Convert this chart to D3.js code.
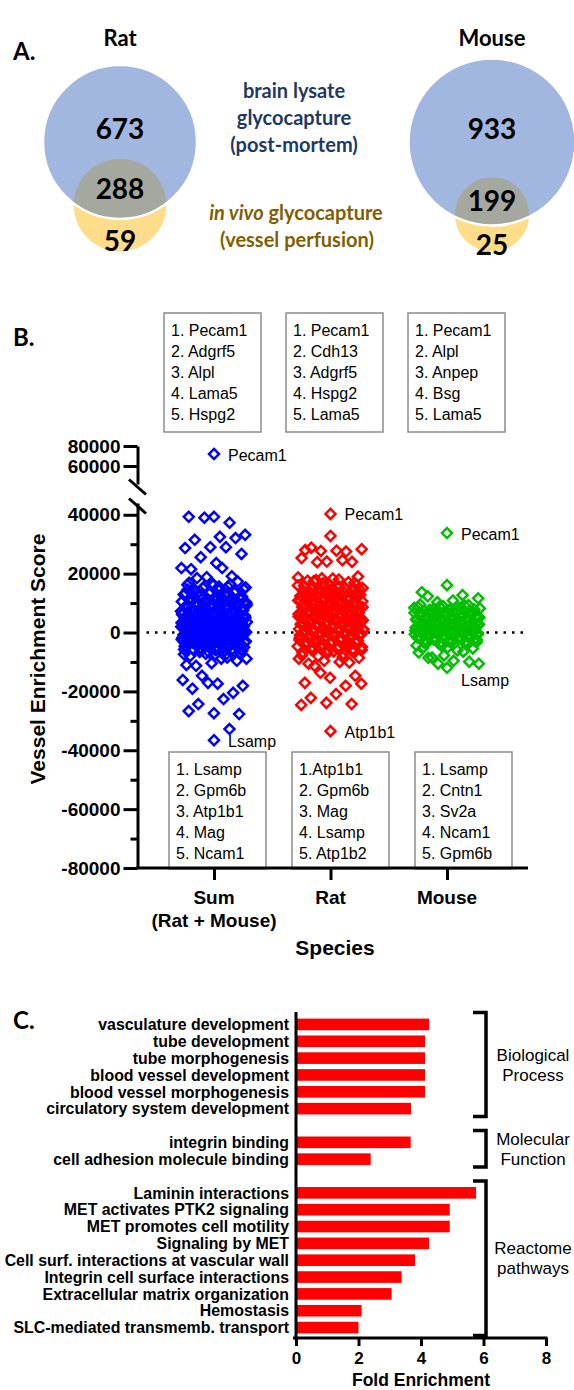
<!DOCTYPE html>
<html>
<head>
<meta charset="utf-8">
<script src="https://d3js.org/d3.v7.min.js"></script>
<style>
  body { margin: 0; background: #fff; }
  svg { display: block; font-family: 'Liberation Sans', Arial, sans-serif; }
  .calibri { font-family: Lato, 'Open Sans', sans-serif; font-weight: bold; }
  .axis path, .axis line { stroke: #000; stroke-width: 3; }
  .axis text { font-weight: bold; fill: #000; font-family: 'Liberation Sans', Arial, sans-serif; }
  .gene-box rect { fill: #fff; stroke: #8c8c8c; stroke-width: 1.5; }
  .gene-box text { font-size: 16px; fill: #000; }
</style>
</head>
<body>
<svg id="chart" width="574" height="1390"></svg>
<script>
// ---------- A. venn counts ----------
var vennSpecies = ['Rat', 'Mouse'];
var lysateOnly = [673, 933];
var bothMethods = [288, 199];
var vivoOnly = [59, 25];

// ---------- B. vessel enrichment scores ----------
var species = ['Sum', 'Rat', 'Mouse'];
var speciesLines = [['Sum', '(Rat + Mouse)'], ['Rat'], ['Mouse']];

var sumScores = [
  39300, 39300, 37300, 39000, 33200, 32500, 31500, 32100, 29000, 28700, 29000, 25600, 26700, 23600,
  21500, 19100, 18800, 21900, 21900, 18500,
  17300, 16600, 16200, 15500, 15100, 14700, 14500, 13900, 13600, 13400, 12900, 12700, 12300, 12000,
  11600, 11500, 11000, 10800, 10300, 10100, 9900, 9500, 9400, 9000, 8800, 8700, 8300, 8200, 7900,
  7700, 7500, 7300, 7200, 6900, 6800, 6500, 6400, 6100, 6000, 5800, 5700, 5400, 5300, 5100, 4900,
  4800, 4600, 4400, 4300, 4100, 4000, 3800, 3600, 3500, 3300, 3200, 3000, 2800, 2700, 2500, 2400,
  2200, 2100, 1900, 1700, 1600, 1400, 1300, 1100, 900, 800, 600, 500, 300, 100, -100, -200, -400,
  -600, -700, -900, -1200, -1400, -1600, -1900, -2100, -2400, -2700, -2900, -3200, -3600, -3900,
  -4300, -4600, -5000, -5500, -5900, -6400, -6800, -7400, -7900,
  12400, 11900, 11300, 10900, 10600, 10200, 9800, 9600, 9200, 8900, 8500, 8400, 8100, 7800, 7600,
  7400, 7100, 7000, 6700, 6600, 6300, 6200, 5900, 5600, 5500, 5200, 5000, 4700, 4500, 4200, 4100,
  3900, 3700, 3400, 3300, 3100, 2900, 2600, 2500, 2300, 2000, 1800, 1500, 1400, 1200, 1000, 700,
  500, 400, 200, 0, -300, -500, -800, -1000, -1300, -1500, -1800, -2000, -2300, -2600, -3000, -3300,
  -3700, -4100, -4500, -4900, -5300, -5800, -6200,
  9700, 8600, 7700, 6900, 6100, 5300, 4600, 3800, 3000, 2300, 1600, 900, 300, -400, -1100, -1700,
  -2500, -3400, -4400, -5400,
  11200, 10700, 10400, 10000, 9800, 9300, 9100, 8900, 8600, 8400, 8200, 7900, 7800, 7500, 7300,
  7100, 6900, 6800, 6600, 6400, 6200, 6100, 5900, 5700, 5600, 5400, 5200, 5100, 4900, 4800, 4600,
  4500, 4300, 4200, 4000, 3900, 3700, 3600, 3400, 3300, 3100, 3000, 2800, 2700, 2500, 2400, 2200,
  2100, 1900, 1800, 1600, 1500, 1300, 1200, 1000, 900, 700, 600, 400, 300, 100, 0, -200, -300,
  -500, -600, -800, -900, -1100, -1200, -1400, -1500, -1700, -1800, -2000, -2200, -2400, -2600,
  -2800, -3000, -3200, -3400, -3700, -3900, -4200, -4400, -4700, -5000, -5300, -5700, -6000,
  10500, 9400, 8300, 7200, 6300, 5500, 4700, 4000, 3300, 2600, 1900, 1200, 500, -200, -900, -1600,
  -2300, -3100, -3900, -4800, -5600,
  16900, 16400, 15800, 15300, 14900, 14400, 14100, 13700, 13300, 13000, 12600, 12200, 11900, 11500,
  11200, 10800, 10500, 10200, 9900, 9600, 16000, 14600, 13200, 11800, 10400, 15600, 12500, 9300,
  -5200, -5800, -6300, -6600, -7000, -7500, -8000, -6100, -7200,
  -8900, -8900, -11300, -9600, -10400, -11000, -8500, -14700, -18100, -17400, -19100, -20500,
  -17100, -16100, -22600, -24300, -27700, -27400, -26700, -32800
];
var ratScores = [
  32800, 28000, 27500, 27700, 28300, 27800, 28800, 24000, 24100, 25300, 24600, 23900,
  19000, 18300, 17600, 17100, 16700, 16000, 15600, 15400, 14800, 14300, 14000, 13500, 13200, 12800,
  12400, 12100, 11700, 11400, 11000, 10700, 10400, 10000, 9700, 9500, 9100, 8900, 8600, 8300, 8100,
  7800, 7500, 7300, 7100, 6800, 6600, 6300, 6100, 5900, 5600, 5400, 5200, 5000, 4700, 4500, 4300,
  4100, 3900, 3700, 3500, 3300, 3100, 2900, 2700, 2500, 2300, 2100, 1900, 1700, 1500, 1300, 1100,
  900, 700, 500, 300, 100, -100, -300, -600, -800, -1100, -1300, -1600, -1900, -2200, -2500, -2900,
  -3200, -3600, -4000, -4400, -4900, -5400, -5900, -6500, -7100, -7800, -8400,
  14500, 13800, 13100, 12500, 11900, 11300, 10900, 10400, 9900, 9600, 9300, 8800, 8500, 8200, 7900,
  7600, 7200, 7000, 6700, 6400, 6200, 5800, 5500, 5300, 5000, 4800, 4600, 4200, 4000, 3800, 3600,
  3400, 3200, 2800, 2600, 2400, 2200, 2000, 1600, 1400, 1200, 1000, 800, 600, 400, 200, 0, -200,
  -500, -700, -1000, -1200, -1500, -1800, -2100, -2400, -2700, -3100, -3400, -3800, -4200, -4700,
  -5200, -5700, -6300,
  10100, 8700, 7400, 6000, 5100, 4400, 3000, 1800, 300, -900, -2300, -3900,
  13200, 12600, 12000, 11500, 11100, 10600, 10200, 9800, 9400, 9000, 8700, 8400, 8000, 7700, 7400,
  7100, 6900, 6600, 6300, 6000, 5700, 5500, 5200, 4900, 4700, 4400, 4100, 3900, 3600, 3400, 3100,
  2900, 2600, 2400, 2100, 1900, 1600, 1400, 1100, 900, 600, 400, 100, -100, -400, -600, -900, -1100,
  -1400, -1600, -1900, -2200, -2500, -2800, -3100, -3500, -3900, -4300, -4800, -5300, -5900,
  11800, 10000, 8200, 6500, 5000, 3700, 2300, 1000, -300, -1700, -3000, -4500,
  18700, 18000, 17400, 16900, 16400, 15900, 15300, 14900, 14400, 14100, 13700, 13300, 12900, 12400,
  12000, 17800, 16200, 14600, 13000, 11600, 18400, 15100, 12700,
  -5000, -5600, -6100, -6800, -7300, -8000, -8600, -6400,
  -10600, -10200, -9600, -8900, -10000, -11300, -14700, -15400, -17100, -18100, -13700, -17400,
  -20900, -22200, -24300, -23900, -24600
];
var mouseScores = [
  16100, 13700, 12700, 10300, 11600, 10900, 12300,
  9300, 8900, 8600, 8300, 8100, 7800, 7600, 7400, 7100, 6900, 6700, 6500, 6300, 6100, 5900, 5700,
  5500, 5300, 5100, 4900, 4700, 4600, 4400, 4200, 4000, 3900, 3700, 3500, 3300, 3200, 3000, 2800,
  2700, 2500, 2300, 2200, 2000, 1800, 1700, 1500, 1300, 1200, 1000, 800, 700, 500, 300, 200, 0,
  -200, -400, -500, -700, -900, -1100, -1300, -1500, -1800, -2000, -2300, -2600, -2900, -3200,
  -3500, -3900,
  8200, 7900, 7500, 7200, 7000, 6600, 6400, 6200, 5800, 5600, 5400, 5000, 4800, 4500, 4300, 4100,
  3800, 3600, 3400, 3100, 2900, 2600, 2400, 2100, 1900, 1600, 1400, 1100, 900, 600, 400, 100, -100,
  -300, -600, -800, -1000, -1200, -1400, -1700, -1900, -2200, -2500, -2800, -3100, -3400, -3700,
  7600, 7300, 6900, 6600, 6300, 6000, 5700, 5400, 5100, 4800, 4500, 4300, 4000, 3700, 3500, 3200,
  3000, 2700, 2500, 2200, 2000, 1700, 1500, 1300, 1000, 800, 500, 300, 0, -200, -500, -700, -1000,
  -1200, -1500, -1800, -2100, -2400, -2700, -3100,
  9100, 8800, 8400, 8000, 7700, 7300, 6800, 9500, 8500, 7400, -3300, -3600, -3900, -4200, -4600,
  -4400, -6100, -8500, -5400, -5100, -5400, -6500, -10600, -10600, -9600, -8600, -9900, -7800, -6800
];
var namedGenes = [
  { species: 'Sum', gene: 'Pecam1', score: 72000 },
  { species: 'Sum', gene: 'Lsamp', score: -36600 },
  { species: 'Rat', gene: 'Pecam1', score: 40300 },
  { species: 'Rat', gene: 'Atp1b1', score: -33500 },
  { species: 'Mouse', gene: 'Pecam1', score: 33800 },
  { species: 'Mouse', gene: 'Lsamp', score: -12000 }
];
var topFive = [
  ['1. Pecam1', '2. Adgrf5', '3. Alpl', '4. Lama5', '5. Hspg2'],
  ['1. Pecam1', '2. Cdh13', '3. Adgrf5', '4. Hspg2', '5. Lama5'],
  ['1. Pecam1', '2. Alpl', '3. Anpep', '4. Bsg', '5. Lama5']
];
var bottomFive = [
  ['1. Lsamp', '2. Gpm6b', '3. Atp1b1', '4. Mag', '5. Ncam1'],
  ['1.Atp1b1', '2. Gpm6b', '3. Mag', '4. Lsamp', '5. Atp1b2'],
  ['1. Lsamp', '2. Cntn1', '3. Sv2a', '4. Ncam1', '5. Gpm6b']
];
var yTicks = [-80000, -60000, -40000, -20000, 0, 20000, 40000];
var yMinorTicks = [-70000, -50000, -30000, -10000, 10000, 30000];
var yTicksBroken = [60000, 80000];

// ---------- C. enrichment ----------
var bpTerms = ['vasculature development', 'tube development', 'tube morphogenesis',
  'blood vessel development', 'blood vessel morphogenesis', 'circulatory system development'];
var bpFold = [4.26, 4.13, 4.13, 4.13, 4.13, 3.68];
var mfTerms = ['integrin binding', 'cell adhesion molecule binding'];
var mfFold = [3.67, 2.39];
var rxTerms = ['Laminin interactions', 'MET activates PTK2 signaling', 'MET promotes cell motility',
  'Signaling by MET', 'Cell surf. interactions at vascular wall', 'Integrin cell surface interactions',
  'Extracellular matrix organization', 'Hemostasis', 'SLC-mediated transmemb. transport'];
var rxFold = [5.76, 4.92, 4.92, 4.26, 3.81, 3.38, 3.06, 2.10, 2.00];
var groupNames = [['Biological', 'Process'], ['Molecular', 'Function'], ['Reactome', 'pathways']];
var foldTicks = [0, 2, 4, 6, 8];

var colours = { Sum: '#0000ff', Rat: '#ff0000', Mouse: '#00bf00' };

var svg = d3.select('#chart');

// ================= A. Venn =================
var venn = svg.append('g').attr('class', 'venn');
var vennX = d3.scalePoint().domain(vennSpecies).range([120, 492]);
var vennCy = 142;
var rScale = d3.scaleSqrt().domain([0, 961]).range([0, 77]);
var defs = svg.append('defs');

vennSpecies.forEach(function(sp, i) {
  var cx = vennX(sp);
  var rb = rScale(lysateOnly[i] + bothMethods[i]);
  var ry = rScale(bothMethods[i] + vivoOnly[i]);
  var cyY = vennCy + rb - 0.3 * ry;

  defs.append('clipPath').attr('id', 'clip-blue-' + i)
    .append('circle').attr('cx', cx).attr('cy', vennCy).attr('r', rb);

  venn.append('circle').attr('cx', cx).attr('cy', cyY).attr('r', ry).style('fill', '#fedd8a');
  venn.append('circle').attr('cx', cx).attr('cy', vennCy).attr('r', rb).style('fill', '#a2b7e0');
  venn.append('circle').attr('cx', cx).attr('cy', cyY).attr('r', ry)
    .attr('clip-path', 'url(#clip-blue-' + i + ')').style('fill', '#a4a89f');
  venn.append('circle').attr('cx', cx).attr('cy', vennCy).attr('r', rb)
    .style('fill', 'none').style('stroke', '#fff').style('stroke-width', 2.5);

  venn.append('text').attr('class', 'calibri').attr('x', cx).attr('y', 46)
    .attr('text-anchor', 'middle').style('font-size', '22px').text(sp);

  var nums = [
    { v: lysateOnly[i], y: vennCy - 13 },
    { v: bothMethods[i], y: (cyY - ry + vennCy + rb) / 2 },
    { v: vivoOnly[i], y: (vennCy + rb + cyY + ry) / 2 + 6 }
  ];
  venn.selectAll('.num-' + i).data(nums).enter().append('text')
    .attr('class', 'calibri num-' + i)
    .attr('x', cx).attr('y', function(d) { return d.y; })
    .attr('dy', '0.36em').attr('text-anchor', 'middle')
    .style('font-size', '28px').text(function(d) { return d.v; });
});

venn.append('text').attr('class', 'calibri').attr('x', 13).attr('y', 60)
  .style('font-size', '24px').text('A.');

var lysateLines = ['brain lysate', 'glycocapture', '(post-mortem)'];
venn.selectAll('.lysate-text').data(lysateLines).enter().append('text')
  .attr('class', 'calibri lysate-text')
  .attr('x', 294).attr('y', function(d, i) { return 98 + i * 27; })
  .attr('text-anchor', 'middle').style('font-size', '20px').style('fill', '#1f3864')
  .text(function(d) { return d; });

var vivo1 = venn.append('text').attr('class', 'calibri').attr('x', 296).attr('y', 220)
  .attr('text-anchor', 'middle').style('font-size', '20px').style('fill', '#7f6000');
vivo1.append('tspan').style('font-style', 'italic').text('in vivo');
vivo1.append('tspan').text(' glycocapture');
venn.append('text').attr('class', 'calibri').attr('x', 297).attr('y', 247)
  .attr('text-anchor', 'middle').style('font-size', '20px').style('fill', '#7f6000')
  .text('(vessel perfusion)');

// ================= B. scatter =================
var scatter = svg.append('g').attr('class', 'scatter');
var axisX = 137.5;
var yLow = d3.scaleLinear().domain([-80000, 44000]).range([868, 503]);
var yHigh = d3.scaleLinear().domain([42000, 80000]).range([484, 446]);
var xCat = d3.scalePoint().domain(species).range([214, 447]);
var jitterWidth = 66;
function yScore(v) { return v > 44000 ? yHigh(v) : yLow(v); }
function jitter(i) { return ((i * 0.618034 + 0.5) % 1 - 0.5) * jitterWidth; }

scatter.append('text').attr('class', 'calibri').attr('x', 13).attr('y', 346)
  .style('font-size', '24px').text('B.');

// dotted zero line
scatter.append('line')
  .attr('x1', axisX + 9).attr('x2', 523)
  .attr('y1', yLow(0)).attr('y2', yLow(0))
  .style('stroke', '#000').style('stroke-width', 2.5).style('stroke-dasharray', '2.5 6');

// gene boxes
var topBoxX = d3.scaleLinear().domain([0, 2]).range([164, 408]);
var bottomBoxX = d3.scaleLinear().domain([0, 2]).range([169, 415]);
function geneBoxes(lists, xs, top, h) {
  var g = scatter.selectAll(null).data(lists).enter().append('g')
    .attr('class', 'gene-box')
    .attr('transform', function(d, i) { return 'translate(' + xs(i) + ',' + top + ')'; });
  g.append('rect').attr('width', 97).attr('height', h);
  g.selectAll('text').data(function(d) { return d; }).enter().append('text')
    .attr('x', 7).attr('y', function(d, i) { return 23 + i * 21; })
    .text(function(d) { return d; });
}
geneBoxes(topFive, topBoxX, 313, 119);
geneBoxes(bottomFive, bottomBoxX, 752, 117);

// points
var symbolType = d3.symbolDiamond2 || d3.symbolDiamond;
var diamond = d3.symbol().type(symbolType).size(64)();
var seriesData = [
  { species: 'Sum', scores: sumScores },
  { species: 'Rat', scores: ratScores },
  { species: 'Mouse', scores: mouseScores }
];
seriesData.forEach(function(s) {
  scatter.selectAll('.pt-' + s.species).data(s.scores).enter().append('path')
    .attr('class', 'pt-' + s.species)
    .attr('d', diamond)
    .attr('transform', function(d, i) {
      return 'translate(' + (xCat(s.species) + jitter(i)) + ',' + yScore(d) + ')';
    })
    .style('fill', 'none').style('stroke', colours[s.species]).style('stroke-width', 2.5);
});

scatter.selectAll('.named-pt').data(namedGenes).enter().append('path')
  .attr('class', 'named-pt').attr('d', diamond)
  .attr('transform', function(d) { return 'translate(' + xCat(d.species) + ',' + yScore(d.score) + ')'; })
  .style('fill', 'none').style('stroke', function(d) { return colours[d.species]; })
  .style('stroke-width', 2.5);

scatter.selectAll('.named-label').data(namedGenes).enter().append('text')
  .attr('class', 'named-label')
  .attr('x', function(d) { return xCat(d.species) + 14; })
  .attr('y', function(d) { return yScore(d.score) + (d.species === 'Mouse' && d.score < 0 ? 13 : 1); })
  .attr('dy', '0.35em').style('font-size', '16px')
  .text(function(d) { return d.gene; });

// axes
scatter.append('g').attr('class', 'axis')
  .attr('transform', 'translate(' + axisX + ',0)')
  .call(d3.axisLeft(yLow).tickValues(yTicks).tickSize(14).tickSizeOuter(0)
    .tickFormat(function(d) { return String(d); }));
scatter.append('g').attr('class', 'axis')
  .attr('transform', 'translate(' + axisX + ',0)')
  .call(d3.axisLeft(yLow).tickValues(yMinorTicks).tickSize(7).tickFormat(''))
  .select('.domain').remove();
scatter.append('g').attr('class', 'axis')
  .attr('transform', 'translate(' + axisX + ',0)')
  .call(d3.axisLeft(yHigh).tickValues(yTicksBroken).tickSize(14).tickSizeOuter(0)
    .tickFormat(function(d) { return String(d); }));
scatter.selectAll('.axis text').style('font-size', '19px');

// axis break marks
[yHigh.range()[0] + 3, yLow.range()[1] + 3].forEach(function(yc) {
  scatter.append('line')
    .attr('x1', axisX - 8.5).attr('y1', yc - 7.5)
    .attr('x2', axisX + 8.5).attr('y2', yc + 7.5)
    .style('stroke', '#000').style('stroke-width', 3);
});

// x axis
scatter.append('line')
  .attr('x1', axisX - 1.5).attr('x2', 528)
  .attr('y1', yLow(-80000)).attr('y2', yLow(-80000))
  .style('stroke', '#000').style('stroke-width', 3);
var xAxis = scatter.append('g').attr('class', 'axis')
  .attr('transform', 'translate(0,' + yLow(-80000) + ')')
  .call(d3.axisBottom(xCat).tickSize(12).tickFormat(''));
xAxis.select('.domain').remove();

scatter.selectAll('.cat-label').data(speciesLines).enter().append('text')
  .attr('class', 'cat-label')
  .attr('x', function(d, i) { return xCat(species[i]); })
  .attr('y', 904).attr('text-anchor', 'middle')
  .style('font-size', '19px').style('font-weight', 'bold')
  .selectAll('tspan').data(function(d) { return d; }).enter().append('tspan')
  .attr('x', function() { return d3.select(this.parentNode).attr('x'); })
  .attr('dy', function(d, i) { return i === 0 ? 0 : 23; })
  .text(function(d) { return d; });

scatter.append('text').attr('x', 335).attr('y', 955).attr('text-anchor', 'middle')
  .style('font-size', '21px').style('font-weight', 'bold').text('Species');

scatter.append('text')
  .attr('transform', 'translate(45,659) rotate(-90)')
  .attr('text-anchor', 'middle')
  .style('font-size', '21px').style('font-weight', 'bold')
  .text('Vessel Enrichment Score');

// ================= C. bars =================
var enrich = svg.append('g').attr('class', 'enrichment');
var groups = [
  { terms: bpTerms, fold: bpFold, name: groupNames[0] },
  { terms: mfTerms, fold: mfFold, name: groupNames[1] },
  { terms: rxTerms, fold: rxFold, name: groupNames[2] }
];
var rows = [];
groups.forEach(function(g, gi) {
  if (gi > 0) rows.push({ key: 'gap' + gi, gap: true });
  g.terms.forEach(function(t, ti) { rows.push({ key: t, value: g.fold[ti], group: gi }); });
});

var xFold = d3.scaleLinear().domain([0, 8]).range([296, 546]);
var yBand = d3.scaleBand().domain(rows.map(function(r) { return r.key; }))
  .range([1016, 1336]).paddingInner(0.31).paddingOuter(0.155);
var bars = rows.filter(function(r) { return !r.gap; });

enrich.append('text').attr('class', 'calibri').attr('x', 13).attr('y', 1029)
  .style('font-size', '24px').text('C.');

enrich.selectAll('.bar').data(bars).enter().append('rect')
  .attr('class', 'bar')
  .attr('x', xFold(0))
  .attr('y', function(d) { return yBand(d.key); })
  .attr('width', function(d) { return xFold(d.value) - xFold(0); })
  .attr('height', yBand.bandwidth())
  .style('fill', '#ff0000');

enrich.selectAll('.term').data(bars).enter().append('text')
  .attr('class', 'term')
  .attr('x', 289)
  .attr('y', function(d) { return yBand(d.key) + yBand.bandwidth() / 2; })
  .attr('dy', '0.36em').attr('text-anchor', 'end')
  .style('font-size', '15.9px').style('font-weight', 'bold')
  .text(function(d) { return d.key; });

var foldAxis = enrich.append('g').attr('class', 'axis')
  .attr('transform', 'translate(0,1338)')
  .call(d3.axisBottom(xFold).tickValues(foldTicks).tickSize(8).tickSizeOuter(0).tickPadding(6));
foldAxis.selectAll('text').style('font-size', '17px');
foldAxis.select('.domain').attr('d', 'M' + (xFold(0) - 3) + ',0H' + (xFold(8) + 1.5));

enrich.append('line')
  .attr('x1', xFold(0)).attr('x2', xFold(0))
  .attr('y1', 1012).attr('y2', 1339.5)
  .style('stroke', '#000').style('stroke-width', 3);

enrich.append('text').attr('x', 421).attr('y', 1386).attr('text-anchor', 'middle')
  .style('font-size', '17.5px').style('font-weight', 'bold').text('Fold Enrichment');

// group brackets
groups.forEach(function(g, gi) {
  var top = yBand(g.terms[0]) - 6;
  var bottom = yBand(g.terms[g.terms.length - 1]) + yBand.bandwidth() + 2;
  enrich.append('path')
    .attr('d', 'M473,' + top + 'H486V' + bottom + 'H473')
    .style('fill', 'none').style('stroke', '#000').style('stroke-width', 3.5);
  var mid = (top + bottom) / 2;
  enrich.selectAll('.grp-' + gi).data(g.name).enter().append('text')
    .attr('class', 'grp-' + gi)
    .attr('x', 533).attr('y', function(d, i) { return mid + (i === 0 ? -10 : 10); })
    .attr('dy', '0.36em').attr('text-anchor', 'middle')
    .style('font-size', '17px')
    .text(function(d) { return d; });
});
</script>
</body>
</html>
